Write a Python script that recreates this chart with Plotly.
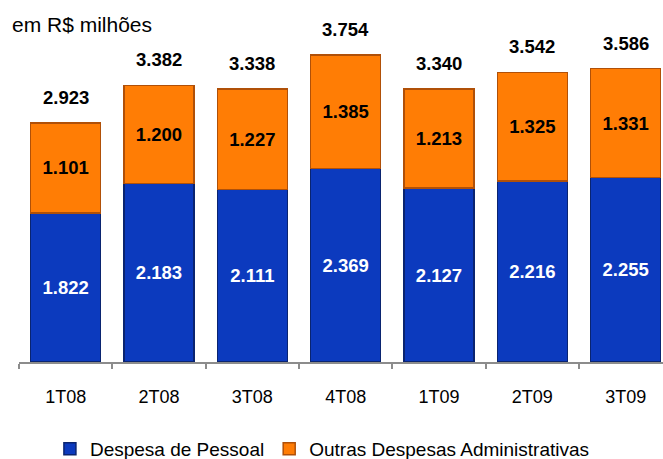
import plotly.graph_objects as go

categories = ["1T08", "2T08", "3T08", "4T08", "1T09", "2T09", "3T09"]
pessoal = [1822, 2183, 2111, 2369, 2127, 2216, 2255]
outras = [1101, 1200, 1227, 1385, 1213, 1325, 1331]
totals = [2923, 3382, 3338, 3754, 3340, 3542, 3586]

def fmt(v):
    return f"{v:,}".replace(",", ".")

FONT = "Liberation Sans, Arial, sans-serif"

fig = go.Figure()
fig.add_trace(go.Bar(
    x=categories, y=pessoal, name="Despesa de Pessoal",
    marker=dict(color="#0c3abe", line=dict(color="#0a2470", width=1.5)),
    text=[fmt(v) for v in pessoal], textposition="inside", insidetextanchor="middle",
    textfont=dict(family=FONT, size=18.5, color="white", weight="bold"),
    constraintext="none", hoverinfo="skip",
))
fig.add_trace(go.Bar(
    x=categories, y=outras, name="Outras Despesas Administrativas",
    marker=dict(color="#ff7d05", line=dict(color="#b05008", width=1.5)),
    text=[fmt(v) for v in outras], textposition="inside", insidetextanchor="middle",
    textfont=dict(family=FONT, size=18.5, color="black", weight="bold"),
    constraintext="none", hoverinfo="skip",
))

for c, t in zip(categories, totals):
    fig.add_annotation(x=c, y=t, text=fmt(t), showarrow=False, yanchor="bottom",
                       yshift=13, font=dict(family=FONT, size=18.5, color="black", weight="bold"))

fig.add_annotation(xref="paper", yref="paper", x=-0.014, y=0.958, xanchor="left", yanchor="middle",
                   text="em R$ milhões", showarrow=False,
                   font=dict(family=FONT, size=21, color="black"))

fig.update_layout(
    width=663, height=459,
    barmode="stack", bargap=0.25,
    margin=dict(l=19, r=0, t=10, b=97, autoexpand=False),
    plot_bgcolor="white", paper_bgcolor="white",
    showlegend=True,
    legend=dict(orientation="h", x=0.048, y=-0.247, xanchor="left", yanchor="middle",
                font=dict(family=FONT, size=19, color="black"), traceorder="normal"),
    xaxis=dict(range=[-0.5, 6.4], showline=True, linecolor="#8c8c8c", linewidth=2,
               ticks="outside", tickson="boundaries", ticklen=5, tickcolor="#8c8c8c", tickwidth=2,
               tickfont=dict(family=FONT, size=18, color="black"), ticklabelstandoff=17,
               showgrid=False, zeroline=False, automargin=False),
    yaxis=dict(range=[0, 4304], visible=False, showgrid=False, zeroline=False, automargin=False),
)

fig.write_html("out.html", config={"displayModeBar": False},
               post_script="document.body.style.margin='0';")
